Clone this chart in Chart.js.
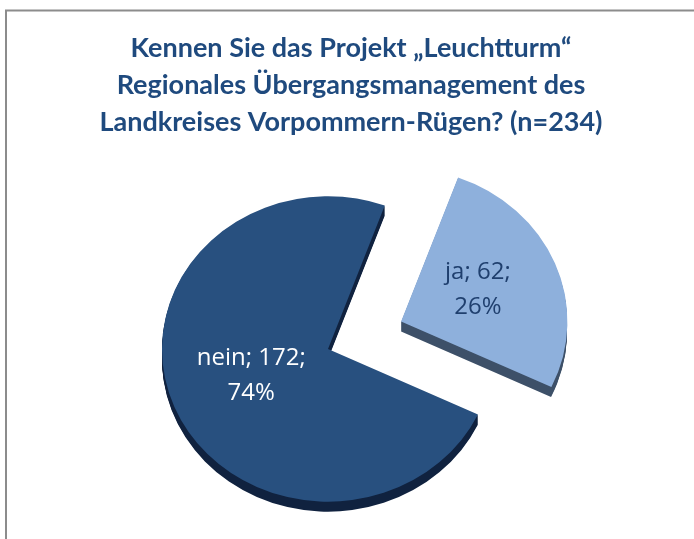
<!DOCTYPE html>
<html>
<head>
<meta charset="utf-8">
<script src="https://cdn.jsdelivr.net/npm/chart.js@4.4.1/dist/chart.umd.min.js"></script>
<style>
  html, body { margin: 0; padding: 0; background: #fff; }
  #wrap { position: relative; width: 694px; height: 539px; }
</style>
</head>
<body>
<div id="wrap"><canvas id="pieChart" width="694" height="539"></canvas></div>
<script>
// data
const categories = ['ja', 'nein'];
const counts = [62, 172];
const percentLabels = ['26%', '74%'];
const titleLines = [
    'Kennen Sie das Projekt „Leuchtturm“',
    'Regionales Übergangsmanagement des',
    'Landkreises Vorpommern-Rügen? (n=234)'
];

// look
const sliceColors = ['#8eb0dc', '#28507f'];
const sideColors = ['#3d5068', '#10223f'];
const labelColors = ['#1f3f6e', '#ffffff'];
const explode = [316, 0];   // arc offset, chart.js moves the slice by offset / 4
const TILT = 0.92;          // squash the pie so it looks tilted
const DEPTH = 10;           // thickness of the 3d rim
const SHIFT_X = -23;        // pie sits a bit left of the title centre
const LABEL_POS = 0.5;

// squashes the pie, draws the rim under it and the slice labels on top
const tiltPlugin = {
    id: 'tilt',
    beforeDraw(chart) {
        const ctx = chart.ctx;
        ctx.save();
        ctx.strokeStyle = '#8c8c8c';
        ctx.lineWidth = 2;
        ctx.strokeRect(6, 10.5, chart.width + 20, chart.height + 20);
        ctx.restore();
    },
    beforeDatasetsDraw(chart) {
        const ctx = chart.ctx;
        const arcs = chart.getDatasetMeta(0).data;
        const cx = arcs[0].x, cy = arcs[0].y;
        ctx.save();
        ctx.translate(cx + SHIFT_X, cy);
        ctx.scale(1, TILT);
        ctx.translate(-cx, -cy);

        arcs.forEach((arc, i) => {
            const mid = (arc.startAngle + arc.endAngle) / 2;
            const off = (arc.options.offset || 0) / 4;
            const ox = arc.x + Math.cos(mid) * off;
            const oy = arc.y + Math.sin(mid) * off;
            ctx.fillStyle = sideColors[i];
            for (let d = 1; d <= DEPTH; d++) {
                ctx.beginPath();
                ctx.moveTo(ox, oy + d / TILT);
                ctx.arc(ox, oy + d / TILT, arc.outerRadius, arc.startAngle, arc.endAngle);
                ctx.closePath();
                ctx.fill();
            }
        });
    },
    afterDatasetsDraw(chart) {
        chart.ctx.restore();
    },
    afterDraw(chart) {
        const ctx = chart.ctx;
        const arcs = chart.getDatasetMeta(0).data;
        const cy = arcs[0].y;
        ctx.save();
        ctx.font = '24px "Open Sans"';
        ctx.textAlign = 'center';
        ctx.textBaseline = 'middle';
        arcs.forEach((arc, i) => {
            const mid = (arc.startAngle + arc.endAngle) / 2;
            const r = (arc.options.offset || 0) / 4 + arc.outerRadius * LABEL_POS;
            const lx = arc.x + Math.cos(mid) * r + SHIFT_X;
            const ly = cy + (arc.y + Math.sin(mid) * r - cy) * TILT;
            ctx.fillStyle = labelColors[i];
            ctx.fillText(categories[i] + '; ' + counts[i] + ';', lx, ly - 20);
            ctx.fillText(percentLabels[i], lx, ly + 15);
        });
        ctx.restore();
    }
};

const ctx = document.getElementById('pieChart').getContext('2d');
const pieChart = new Chart(ctx, {
    type: 'pie',
    data: {
        labels: categories,
        datasets: [{
            data: counts,
            backgroundColor: sliceColors,
            borderWidth: 0,
            offset: explode
        }]
    },
    options: {
        responsive: false,
        animation: false,
        events: [],
        rotation: 20,
        radius: 166,
        layout: {
            padding: { left: 8 }
        },
        plugins: {
            legend: { display: false },
            tooltip: { enabled: false },
            title: {
                display: true,
                text: titleLines,
                color: '#1f4a7e',
                font: { family: 'Lato', size: 27, weight: 'bold', lineHeight: '37px' },
                padding: { top: 30, bottom: 18 }
            }
        }
    },
    plugins: [tiltPlugin]
});
</script>
</body>
</html>
